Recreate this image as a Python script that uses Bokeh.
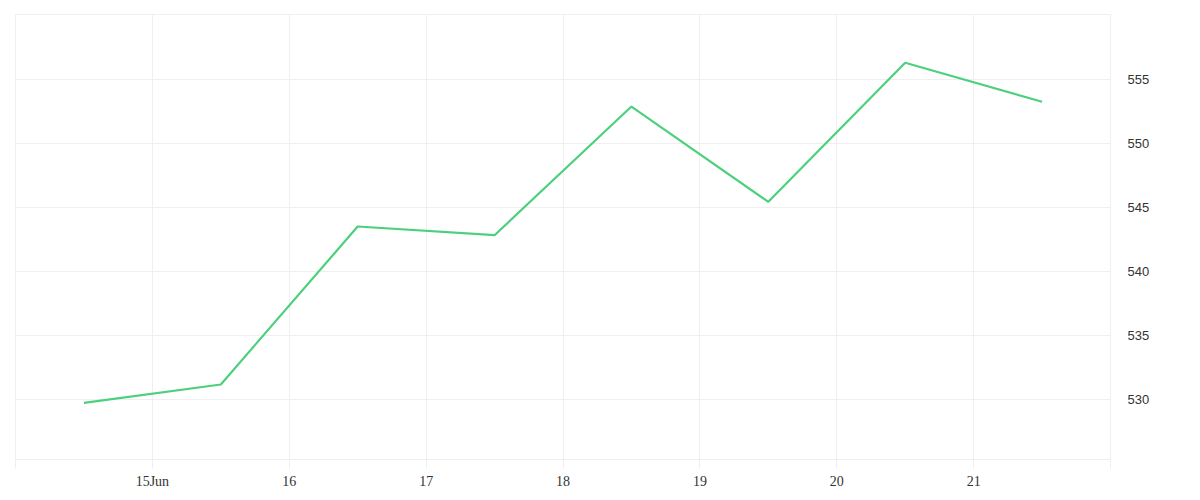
from bokeh.plotting import figure
from bokeh.models import FixedTicker, Range1d, ColumnDataSource
from bokeh.embed import file_html
from bokeh.resources import INLINE

# Data: day of June (points at midday), closing values
days = [14.5, 15.5, 16.5, 17.5, 18.5, 19.5, 20.5, 21.5]
values = [529.77, 531.2, 543.54, 542.86, 552.91, 545.47, 556.33, 553.28]

x_ticks = [14, 15, 16, 17, 18, 19, 20, 21, 22]
x_tick_labels = ["", "15Jun", "16", "17", "18", "19", "20", "21", ""]
y_ticks = [530, 535, 540, 545, 550, 555]

GRID = "#efefef"

p = figure(width=1184, height=494, output_backend="svg", toolbar_location=None,
           x_range=Range1d(14, 22), y_range=Range1d(525.34, 560.1),
           y_axis_location="right",
           min_border_left=15, min_border_top=14, min_border_right=74, min_border_bottom=35)

src = ColumnDataSource(dict(x=days, y=values))
p.line("x", "y", source=src, line_color="#4cd07d", line_width=2.2)

p.outline_line_color = GRID
p.outline_line_width = 1
p.background_fill_color = "white"
p.border_fill_color = "white"

xa = p.xaxis[0]
xa.ticker = FixedTicker(ticks=x_ticks)
xa.major_label_overrides = {t: l for t, l in zip(x_ticks, x_tick_labels)}
xa.axis_line_color = None
xa.major_tick_line_color = GRID
xa.major_tick_in = 0
xa.major_tick_out = 9
xa.minor_tick_line_color = None
xa.major_label_standoff = 5
xa.major_label_text_font = "Liberation Serif"
xa.major_label_text_font_size = "14px"
xa.major_label_text_color = "#333333"

ya = p.yaxis[0]
ya.ticker = FixedTicker(ticks=y_ticks)
ya.axis_line_color = None
ya.major_tick_line_color = None
ya.minor_tick_line_color = None
ya.major_tick_in = 0
ya.major_tick_out = 0
ya.major_label_standoff = 17
ya.major_label_text_font = "Liberation Sans"
ya.major_label_text_font_size = "13px"
ya.major_label_text_color = "#333333"

p.xgrid.ticker = FixedTicker(ticks=x_ticks)
p.ygrid.ticker = FixedTicker(ticks=y_ticks)
p.xgrid.grid_line_color = GRID
p.ygrid.grid_line_color = GRID

open("out.html", "w").write(file_html(p, INLINE))
